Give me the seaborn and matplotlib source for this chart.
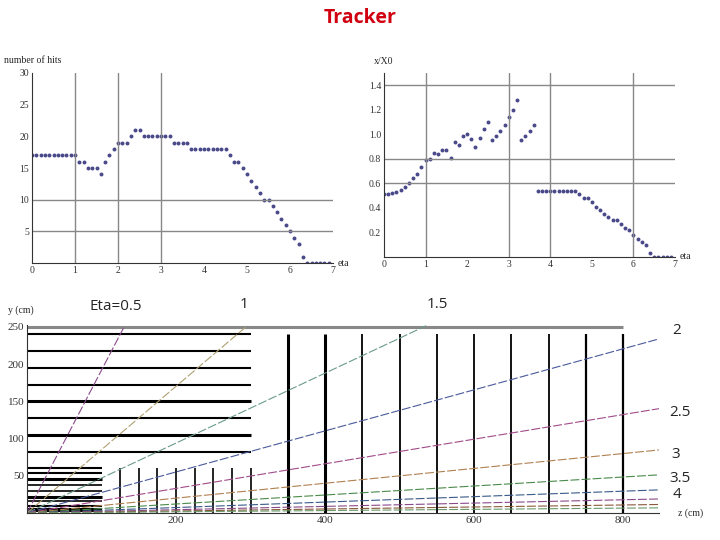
import numpy as np
import matplotlib
matplotlib.use("Agg")
import matplotlib.pyplot as plt
import seaborn as sns

sns.set_style("white")
plt.rcParams['font.family'] = ['Liberation Serif', 'DejaVu Serif']

eta = np.round(np.arange(0, 7.0, 0.1), 1)
hits = [17,17,17,17,17,17,17,17,17,17,17,16,16,15,15,15,14,16,17,18,
        19,19,19,20,21,21,20,20,20,20,20,20,20,19,19,19,19,18,18,18,
        18,18,18,18,18,18,17,16,16,15,14,13,12,11,10,10,9,8,7,6,
        5,4,3,1,0,0,0,0,0,0]
x0 = [0.51,0.51,0.52,0.53,0.55,0.57,0.60,0.64,0.68,0.73,0.79,0.80,0.85,0.84,0.87,0.87,0.81,0.94,0.91,0.99,
      1.00,0.96,0.90,0.97,1.04,1.10,0.95,0.99,1.03,1.08,1.14,1.20,1.28,0.95,0.99,1.03,1.08,0.54,0.54,0.54,
      0.54,0.54,0.54,0.54,0.54,0.54,0.54,0.51,0.48,0.48,0.45,0.41,0.38,0.35,0.33,0.30,0.30,0.27,0.24,0.22,
      0.18,0.15,0.12,0.10,0.03,0.0,0.0,0.0,0.0,0.0]

barrel_outer = [240, 218, 195, 172, 150, 128, 105, 82]
barrel_outer_w = [1.5, 1.5, 1.5, 1.5, 2.2, 1.5, 2.2, 1.5]
barrel_inner = [60, 54, 45, 38, 29, 22, 16, 9, 5, 3]
barrel_inner_w = [1.5, 1.5, 2.2, 1.2, 1.2, 2.2, 1.2, 1.5, 1.5, 1.5]
disk_inner_z = [125, 150, 175, 200, 225, 250, 275, 300]
disk_outer_z = [350, 400, 450, 500, 550, 600, 650, 700, 750, 800]
disk_outer_w = [2.2, 2.2, 1.3, 1.3, 1.3, 1.3, 1.3, 1.3, 1.6, 1.6]
eta_lines = [0.5, 1.0, 1.5, 2.0, 2.5, 3.0, 3.5, 4.0, 4.5, 5.0, 5.5]
eta_colors = ['#8a4a8a', '#b0a070', '#6a9a8a', '#4a5a9a', '#a04a8a', '#b08050',
              '#4a8a4a', '#3a5a8a', '#8a4a8a', '#8a5a3a', '#6a9a6a']
eta_labels = ['Eta=0.5', '1', '1.5', '2', '2.5', '3', '3.5', '4']
eta_label_pos = [(116, 307), (244, 305), (437, 305), (677, 330), (680, 413), (676, 455), (680, 478), (677, 495)]

W, H = 720, 540
fig = plt.figure(figsize=(7.2, 5.4), dpi=100)

def ax_px(l, r, b, t):
    return fig.add_axes([l / W, 1 - b / H, (r - l) / W, (b - t) / H])

def style(ax):
    for s in ['top', 'right']:
        ax.spines[s].set_visible(False)
    for s in ['left', 'bottom']:
        ax.spines[s].set_color('#333333')
        ax.spines[s].set_linewidth(0.8)
    ax.tick_params(labelsize=7, length=3, width=0.6, direction='in', colors='#333333', pad=2)
    ax.set_facecolor('none')

fig.text(0.5, 1 - 18 / H, 'Tracker', color='#d00010', ha='center', va='center',
         fontsize=14, fontweight='bold', family=['Open Sans', 'DejaVu Sans'])

# top left
a1 = ax_px(32, 333, 263, 73)
style(a1)
for v in [1, 2, 3]:
    a1.axvline(v, color='#888888', lw=1)
for v in [5, 10]:
    a1.axhline(v, color='#888888', lw=1)
sns.scatterplot(x=eta, y=hits, ax=a1, color='#4a4a8a', s=8, linewidth=0)
a1.set_xlim(0, 7); a1.set_ylim(0, 30)
a1.set_xticks(range(8)); a1.set_yticks([5, 10, 15, 20, 25, 30])
a1.set_xlabel(''); a1.set_ylabel('')
fig.text(4 / W, 1 - 63 / H, 'number of hits', fontsize=7)
fig.text(338 / W, 1 - 263 / H, 'eta', fontsize=7, va='center')

# top right
a2 = ax_px(384, 675, 257, 73)
style(a2)
for v in [1, 3, 4, 6]:
    a2.axvline(v, color='#888888', lw=1)
for v in [0.6, 0.8, 1.4]:
    a2.axhline(v, color='#888888', lw=1)
sns.scatterplot(x=eta, y=x0, ax=a2, color='#4a4a8a', s=8, linewidth=0)
a2.set_xlim(0, 7); a2.set_ylim(0, 1.5)
a2.set_xticks(range(8)); a2.set_yticks([0.2, 0.4, 0.6, 0.8, 1.0, 1.2, 1.4])
a2.set_yticklabels(['0.2', '0.4', '0.6', '0.8', '1.0', '1.2', '1.4'])
a2.set_xlabel(''); a2.set_ylabel('')
fig.text(374 / W, 1 - 64 / H, 'x/X0', fontsize=7)
fig.text(680 / W, 1 - 257 / H, 'eta', fontsize=7, va='center')

# bottom
a3 = ax_px(27, 659, 513, 325)
style(a3)
a3.set_xlim(0, 848); a3.set_ylim(0, 252.5)
a3.hlines(250, 0, 800, color='#888888', lw=2.2)
for y, w in zip(barrel_outer, barrel_outer_w):
    a3.hlines(y, 0, 300, color='black', lw=w)
for y, w in zip(barrel_inner, barrel_inner_w):
    a3.hlines(y, 0, 100, color='black', lw=w)
for z in disk_inner_z:
    a3.vlines(z, 0, 60, color='black', lw=1.2)
for z, w in zip(disk_outer_z, disk_outer_w):
    a3.vlines(z, 0, 240, color='black', lw=w)
zz = np.linspace(0, 848, 400)
for e, c in zip(eta_lines, eta_colors):
    yy = zz / np.sinh(e)
    m = yy <= 252
    a3.plot(zz[m], yy[m], color=c, lw=0.8, ls=(0, (8, 2)))
a3.set_xticks([200, 400, 600, 800]); a3.set_yticks([50, 100, 150, 200, 250])
a3.tick_params(labelsize=8)
fig.text(8 / W, 1 - 313 / H, 'y (cm)', fontsize=7)
fig.text(678 / W, 1 - 513 / H, 'z (cm)', fontsize=7, va='center')

for t, (x, y) in zip(eta_labels, eta_label_pos):
    fig.text(x / W, 1 - y / H, t, fontsize=11, ha='center', va='center',
             family=['Open Sans', 'DejaVu Sans'])

fig.savefig('out.png', dpi=100)
